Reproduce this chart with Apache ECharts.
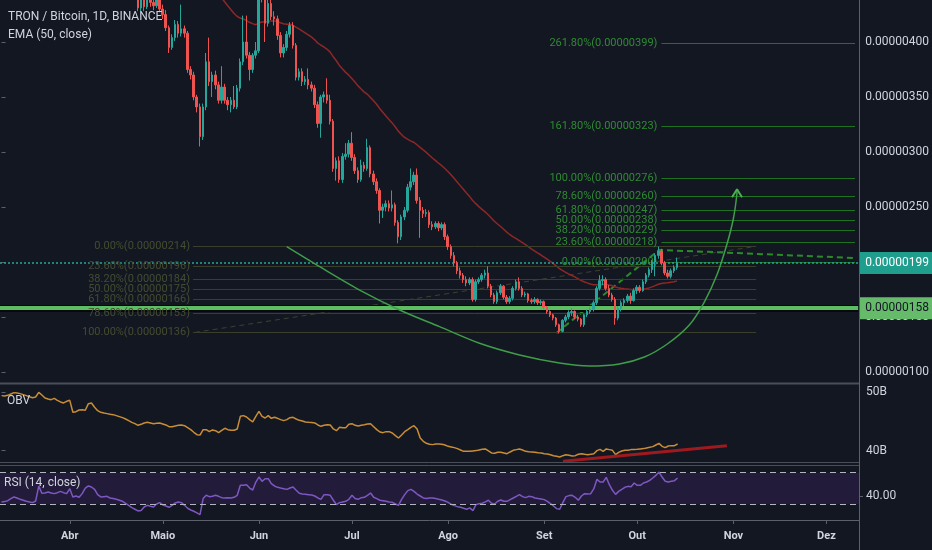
<!DOCTYPE html>
<html><head><meta charset="utf-8">
<script src="https://cdn.jsdelivr.net/npm/echarts@6/dist/echarts.min.js"></script>
<style>html,body{margin:0;padding:0;background:#131722;}#c{width:932px;height:550px;}</style>
</head><body><div id="c"></div>
<script>
// ---- data (prices in satoshi = 1e-8 BTC) ----
const startDate = [2019, 2, 10];
const dayCount = 277;
const monthNames = ['Jan','Fev','Mar','Abr','Maio','Jun','Jul','Ago','Set','Out','Nov','Dez'];
const opens = [
656,662,650,642,654,646,635,640,628,618,
624,616,608,614,605,598,604,595,586,592,
583,576,580,568,550,558,548,540,546,535,
528,532,522,515,520,505,496,500,488,478,
482,470,460,453,443,431,440,432,445,436,
433,442,430,425,413,395,404,416,408,412,
408,375,370,350,341,314,341,382,364,370,
361,347,359,347,343,347,341,358,382,400,
388,375,388,392,445,452,417,435,423,421,
406,390,395,407,415,397,368,373,364,366,
361,358,343,326,350,352,347,328,285,292,
275,296,298,308,295,283,275,288,285,304,
280,273,265,247,250,253,249,252,236,223,
241,247,268,273,279,256,247,244,245,234,
232,235,231,234,223,214,206,199,192,188,
184,181,184,166,182,184,188,190,178,170,
164,172,178,168,164,167,176,182,176,170,
171,165,164,166,163,164,159,155,152,149,
143,137,147,150,154,155,150,148,143,152,
155,157,163,176,183,184,176,170,166,149,
158,163,165,169,165,174,177,174,182,188,
193,200,206,210,199,190,187,192,195];
const closes = [
662,650,642,654,646,635,640,628,618,624,
616,608,614,605,598,604,595,586,592,583,
576,580,568,550,558,548,540,546,535,528,
532,522,515,520,505,496,500,488,478,482,
470,460,453,443,431,440,432,445,436,433,
442,430,425,413,395,404,416,408,412,408,
375,370,350,341,314,341,382,364,370,361,
347,359,347,343,347,341,358,382,400,388,
375,388,392,445,452,417,435,423,421,406,
390,395,407,415,397,368,373,364,366,361,
358,343,326,350,352,347,328,285,292,275,
296,298,308,295,283,275,288,285,304,280,
273,265,247,250,253,249,252,236,223,241,
247,268,273,279,256,247,244,245,234,232,
235,231,234,223,214,206,199,192,188,184,
181,184,166,182,184,188,190,178,170,164,
172,178,168,164,167,176,182,176,170,171,
165,164,166,163,164,159,155,152,149,143,
137,147,150,154,155,150,148,143,152,155,
157,163,176,183,184,176,170,166,149,158,
163,165,169,165,174,177,174,182,188,193,
200,206,210,199,190,187,192,195,199];
const lows = [
648,644,635,638,640,630,628,622,612,614,
610,602,604,600,592,594,590,580,582,578,
570,570,562,544,546,540,534,536,530,522,
523,516,510,510,499,490,491,482,472,472,
464,455,448,440,428,428,428,430,432,429,
431,427,421,410,390,393,401,404,405,404,
372,366,347,336,305,311,338,360,350,357,
344,344,344,338,336,339,339,355,379,385,
365,372,385,390,436,400,414,420,415,402,
386,386,392,404,394,365,365,360,361,357,
355,340,322,313,345,344,325,282,274,272,
272,293,295,292,280,272,273,282,283,277,
270,262,235,240,246,246,246,233,217,220,
238,245,265,270,253,222,240,241,231,229,
230,228,229,220,211,203,196,189,185,181,
178,179,164,164,180,182,185,176,168,162,
162,170,166,162,162,165,174,174,168,168,
163,162,162,161,161,157,153,150,147,141,
135,136,145,148,151,148,146,141,141,150,
153,155,161,174,179,174,168,164,143,147,
155,160,163,162,164,171,172,173,180,186,
190,187,203,197,188,185,185,190,193];
const highs = [
670,668,656,660,659,650,647,644,632,630,
628,620,620,618,610,610,608,600,598,596,
588,586,585,572,564,562,552,550,550,540,
538,536,526,526,524,508,505,503,492,488,
486,472,464,458,450,448,444,452,448,441,
447,445,434,429,415,407,420,419,434,415,
410,378,373,352,344,344,390,404,373,374,
364,378,362,350,350,360,361,385,424,424,
391,390,400,452,460,455,442,441,428,424,
409,398,410,418,418,399,376,376,369,376,
364,361,346,352,355,367,352,330,295,296,
299,308,311,318,298,286,293,291,312,306,
283,276,267,253,256,256,265,254,238,243,
250,271,285,282,285,259,250,248,247,237,
237,237,236,236,225,216,209,201,195,190,
187,186,186,184,186,190,193,196,180,172,
174,180,179,170,169,178,184,186,178,173,
172,167,168,167,166,165,160,156,153,150,
144,148,152,156,158,156,152,149,153,157,
159,165,178,188,188,186,179,172,168,160,
165,167,171,172,176,179,179,184,190,195,
202,208,214,212,201,193,194,197,204];
// OBV in billions
const obv = [
49.38,49.32,49.43,49.66,49.89,49.83,49.72,49.55,49.38,49.2,
49.03,49.15,49.94,49.49,48.98,48.81,48.69,48.92,48.58,48.3,
48.13,48.41,48.58,46.54,46.65,46.93,46.99,46.88,48.01,48.13,
47.39,46.82,46.54,46.42,46.31,46.2,46.14,45.97,45.8,45.63,
45.4,45.12,44.83,44.6,44.32,44.49,44.72,44.83,44.72,44.6,
44.66,44.72,44.55,44.38,44.09,44.09,44.21,44.32,44.38,44.26,
43.92,43.58,43.13,42.73,42.67,43.58,43.58,43.24,43.53,43.41,
43.07,43.47,43.81,43.58,43.47,43.47,43.7,45.85,45.97,45.74,
45.29,44.89,45.85,46.71,45.85,45.57,45.97,45.51,45.68,45.51,
45.29,45.12,45.29,45.63,45.68,45.4,45.17,45.06,44.89,44.83,
44.78,44.72,44.38,44.15,44.32,44.43,44.38,43.7,43.41,43.98,
43.92,43.92,44.49,44.6,44.32,44.21,44.32,44.43,44.55,44.6,
44.09,43.58,43.18,43.07,43.24,43.24,43.02,42.56,42.16,42.67,
43.24,43.58,43.98,44.26,43.7,42.16,41.59,41.25,41.08,41.03,
41.14,41.14,41.08,40.97,40.74,40.63,40.52,40.35,40.12,39.89,
39.89,39.89,39.95,40.01,40.12,40.23,40.29,39.95,39.61,39.55,
39.72,39.72,39.61,39.49,39.78,40.06,40.18,40.29,40.12,39.89,
39.83,39.78,39.72,39.66,39.61,39.49,39.44,39.32,39.15,39.04,
38.93,39.15,39.32,39.21,39.1,39.15,39.38,39.49,39.38,39.32,
39.38,39.49,40.01,40.23,39.89,40.29,40.18,40.06,39.32,39.72,
39.95,40.06,40.06,40.18,40.18,40.23,40.29,40.35,40.46,40.57,
40.69,40.97,41.25,40.74,40.52,40.8,40.86,40.86,41.14];
const rsi = [
33,33.4,34.6,37.2,39.3,38,36.3,35.1,33.8,33,
32.1,34.2,53,44,44.3,45.6,44.3,43.5,44.7,46.4,
44.7,43.5,49.8,39.3,40.5,38.9,43.5,50.6,53.2,51.9,
48.9,42.2,39.3,39.7,40.1,38,37.2,36.3,35.1,33.8,
31.3,28.7,25.8,23.7,21.6,22,26.6,28.7,27.5,26.6,
30.4,32.1,29.2,27.9,26.2,28.7,31.7,33,32.1,28.7,
25,22.8,21.2,19.1,17,37.2,41.4,39.7,40.1,41.4,
40.1,38.4,38,38.4,38,38.9,41.4,54,54,54.8,
50.6,48.1,58.2,64.5,59.1,62.4,62.4,56.1,53.2,51.5,
50.6,49.8,48.9,50.6,51.9,47.7,43.9,43,42.6,42.2,
41.8,40.5,38,36.3,42.2,42.2,41.4,35.1,29.6,32.1,
33,33.8,36.3,41.4,37.2,36.3,38.4,38.9,41.4,44.3,
38.9,37.2,35.1,34.6,33.8,33,32.5,30.4,28.7,36.3,
42.2,47.3,48.9,46.4,43,40.5,38,37.2,38,38,
37.2,36.3,35.5,34.2,32.5,30,28.3,27,26.2,25,
23.7,25.4,22,29.6,30.8,31.3,33,35.1,31.3,30.4,
33.8,35.5,33.8,33.8,35.9,38,40.1,42.2,39.7,38.4,
40.1,39.7,38,37.2,36.7,35.9,33.8,30.8,27.9,24.5,
23.7,32.1,39.7,41,41.4,38.9,35.1,40.5,43.5,43,
43.5,49.8,61.6,58.2,58.2,64.1,54.8,47.7,42.6,46.4,
48.9,51.5,52.7,52.3,57,54,54,57,58.2,60.3,
63.3,66.6,70.8,64.5,59.1,58.2,59.1,59.9,63.3];
const emaPeriod = 50;
const lastPrice = 199;
const supportLevel = 158;
const priceTicks = [100,150,200,250,300,350,400];
const obvTicks = [40,50];
const rsiTicks = [40];
const rsiBands = [30,70];
// drawings in chart coordinates: [day index, value]
const fibLeftPct = [0,23.6,38.2,50,61.8,78.6,100];
const fibLeftVal = [214,196,184,175,166,153,136];
const fibLeftSpan = [61.8,243.6];
const fibLeftTrend = [[62.4,136],[243,214]];
const fibRightPct = [0,23.6,38.2,50,61.8,78.6,100,161.8,261.8];
const fibRightVal = [200,218,229,238,247,260,276,323,399];
const fibRightSpan = [213,275.5];
const extTrend = [[179.1,135.5],[212.3,211],[275.2,203.7]];
const arcPts = [[92.05,213.9],[102.69,195.7],[115.59,174.5],[128.49,156.4],[141.39,141.2],[154.29,126.1],
  [167.19,115.5],[180.09,108.2],[189.76,105.45],[199.43,107.3],[207.5,113.6],[214.9,125.45],
  [222.0,142.7],[226.84,163.6],[231.03,189.1],[234.26,217.3],[236.2,239.1],[237.33,260.9],[237.39,266.1]];
const arrowPts = [[235.8,258.8],[237.4,266.1],[239.0,258.8]];
const obvTrend = [[181.05,38.19],[233.9,40.85]];

// ---- build ----
const cats = [];
const t0 = Date.UTC(startDate[0], startDate[1], startDate[2]);
for (let k = 0; k < dayCount; k++) cats.push(new Date(t0 + k * 86400000).toISOString().slice(0, 10));
const candles = opens.map((o, k) => [o, closes[k], lows[k], highs[k]]);
const ema = [];
{ const a = 2 / (emaPeriod + 1); let e = closes[0];
  closes.forEach((c, k) => { e = k === 0 ? c : a * c + (1 - a) * e; ema.push(+e.toFixed(3)); }); }
const fmtP = v => (v * 1e-8).toFixed(8);
const isMonthStart = (idx, val) => String(val).slice(8) === '01';
const FONT = 'Roboto';
const TXT = '#d1d4dc';
const AX = '#5d606b';

function fibMarks(pcts, vals, span, lineColor, textColor) {
  return pcts.map((p, k) => [
    { coord: [span[0], vals[k]], lineStyle: { color: lineColor },
      label: { formatter: p.toFixed(2) + '%(' + fmtP(vals[k]) + ')', color: textColor } },
    { coord: [span[1], vals[k]] }
  ]);
}
const yCommon = (gi, min, max, ticks, fmt) => ({
  type: 'value', gridIndex: gi, position: 'right', min: min, max: max, scale: true,
  axisLine: { show: false },
  axisTick: { show: true, length: 4, customValues: ticks, lineStyle: { color: AX } },
  axisLabel: { customValues: ticks, formatter: fmt, color: TXT, fontSize: 12, fontFamily: FONT, margin: 7 },
  splitLine: { show: false }
});

const chart = echarts.init(document.getElementById('c'), null, { renderer: 'canvas' });
chart.setOption({
  backgroundColor: '#131722',
  animation: false,
  grid: [
    { left: 0, right: 73, top: 0, height: 383 },
    { left: 0, right: 73, top: 385, height: 77 },
    { left: 0, right: 73, top: 466, height: 54 }
  ],
  xAxis: [
    { type: 'category', gridIndex: 0, data: cats, show: false },
    { type: 'category', gridIndex: 1, data: cats, show: false },
    { type: 'category', gridIndex: 2, data: cats,
      axisLine: { show: true, lineStyle: { color: AX } },
      axisTick: { show: true, interval: isMonthStart, alignWithLabel: true, length: 4, lineStyle: { color: AX } },
      axisLabel: { interval: isMonthStart, formatter: v => monthNames[+v.slice(5, 7) - 1],
        color: TXT, fontSize: 11, fontWeight: 'bold', fontFamily: FONT, margin: 11 },
      splitLine: { show: false } },
    { type: 'value', gridIndex: 0, min: -0.5, max: dayCount - 0.5, show: false },
    { type: 'value', gridIndex: 1, min: -0.5, max: dayCount - 0.5, show: false }
  ],
  yAxis: [
    yCommon(0, 90, 438.18, priceTicks, v => fmtP(v)),
    yCommon(1, 38.07, 51.19, obvTicks, v => v + 'B'),
    yCommon(2, 10.1, 78.5, rsiTicks, v => v.toFixed(2))
  ],
  series: [
    { type: 'line', name: 'fibLeft', xAxisIndex: 3, yAxisIndex: 0, data: fibLeftTrend, symbol: 'none', z: 1,
      lineStyle: { color: '#3c4130', width: 1, type: [5, 4] },
      markLine: { symbol: ['none', 'none'], silent: true, animation: false,
        lineStyle: { type: 'solid', width: 1 },
        label: { position: 'start', distance: 3, fontSize: 11, fontFamily: FONT },
        data: fibMarks(fibLeftPct, fibLeftVal, fibLeftSpan, '#3a3f2c', '#454c2f') } },
    { type: 'line', name: 'fibRight', xAxisIndex: 3, yAxisIndex: 0, data: extTrend, symbol: 'none', z: 1,
      lineStyle: { color: '#2a8a2a', width: 2, type: [6, 4] },
      markLine: { symbol: ['none', 'none'], silent: true, animation: false,
        lineStyle: { type: 'solid', width: 1 },
        label: { position: 'start', distance: 4, fontSize: 11, fontFamily: FONT },
        data: fibMarks(fibRightPct, fibRightVal, fibRightSpan, '#1f7222', '#2f8a33') } },
    { type: 'line', name: 'EMA', xAxisIndex: 0, yAxisIndex: 0, data: ema, symbol: 'none', z: 3,
      lineStyle: { color: '#8f2727', width: 1.5 } },
    { type: 'candlestick', name: 'TRXBTC', xAxisIndex: 0, yAxisIndex: 0, data: candles, z: 5, barWidth: 2,
      itemStyle: { color: '#26a69a', color0: '#ef5350', borderColor: '#26a69a', borderColor0: '#ef5350', borderWidth: 1 },
      markLine: { symbol: ['none', 'none'], silent: true, animation: false,
        label: { position: 'end', distance: 1, fontSize: 12, fontFamily: FONT, padding: [5, 6, 5, 6] },
        data: [
          { yAxis: lastPrice, lineStyle: { color: '#26a69a', width: 1.5, type: [2, 2] },
            label: { formatter: fmtP(lastPrice), backgroundColor: '#1f9d8d', color: '#ffffff' } },
          { yAxis: supportLevel, lineStyle: { color: '#07090d', width: 7, type: 'solid' }, label: { show: false } },
          { yAxis: supportLevel, lineStyle: { color: '#5cbd63', width: 4, type: 'solid' },
            label: { formatter: fmtP(supportLevel), backgroundColor: '#66bb6a', color: '#131722' } }
        ] } },
    { type: 'line', name: 'arc', xAxisIndex: 3, yAxisIndex: 0, data: arcPts, symbol: 'none', smooth: 0.3, z: 6,
      lineStyle: { color: '#3f9d4a', width: 1.5 } },
    { type: 'line', name: 'arrow', xAxisIndex: 3, yAxisIndex: 0, data: arrowPts, symbol: 'none', z: 6,
      lineStyle: { color: '#4caf50', width: 2 } },
    { type: 'line', name: 'OBV', xAxisIndex: 1, yAxisIndex: 1, data: obv, symbol: 'none', z: 3,
      lineStyle: { color: '#c98d35', width: 1.5 } },
    { type: 'line', name: 'OBVtrend', xAxisIndex: 4, yAxisIndex: 1, data: obvTrend, symbol: 'none', z: 4,
      lineStyle: { color: '#9e1a1f', width: 3 } },
    { type: 'line', name: 'RSI', xAxisIndex: 2, yAxisIndex: 2, data: rsi, symbol: 'none', z: 3,
      lineStyle: { color: '#7e57c2', width: 1.5 },
      markArea: { silent: true, itemStyle: { color: 'rgba(120,60,200,0.15)' },
        data: [[{ yAxis: rsiBands[0] }, { yAxis: rsiBands[1] }]] },
      markLine: { symbol: ['none', 'none'], silent: true, animation: false, label: { show: false },
        lineStyle: { color: '#b2b5be', width: 1, type: [6, 4] },
        data: rsiBands.map(v => ({ yAxis: v })) } }
  ],
  graphic: [
    { type: 'line', shape: { x1: 0, y1: 383.5, x2: 859, y2: 383.5 }, style: { stroke: '#4a4e59', lineWidth: 2 }, z: 50 },
    { type: 'line', shape: { x1: 0, y1: 462.5, x2: 859, y2: 462.5 }, style: { stroke: '#4a4e59', lineWidth: 1 }, z: 50 },
    { type: 'line', shape: { x1: 0, y1: 465.5, x2: 859, y2: 465.5 }, style: { stroke: '#4a4e59', lineWidth: 1 }, z: 50 },
    { type: 'line', shape: { x1: 859.5, y1: 0, x2: 859.5, y2: 550 }, style: { stroke: AX, lineWidth: 1 }, z: 50 },
    { type: 'text', left: 8, top: 11, z: 60, style: { text: 'TRON / Bitcoin, 1D, BINANCE', fill: TXT, font: '12px Roboto' } },
    { type: 'text', left: 8, top: 29, z: 60, style: { text: 'EMA (50, close)', fill: TXT, font: '12px Roboto' } },
    { type: 'text', left: 7, top: 395, z: 60, style: { text: 'OBV', fill: TXT, font: '12px Roboto' } },
    { type: 'text', left: 4, top: 477, z: 60, style: { text: 'RSI (14, close)', fill: TXT, font: '12px Roboto' } }
  ]
});
</script></body></html>
